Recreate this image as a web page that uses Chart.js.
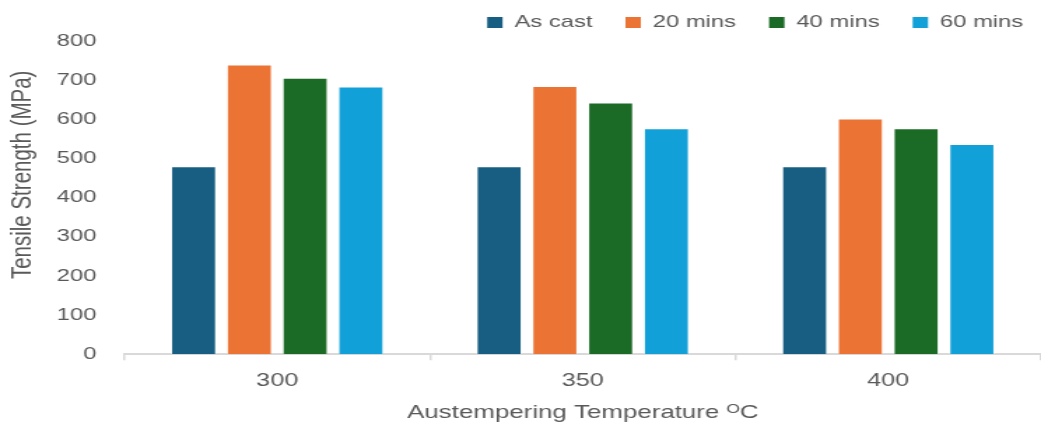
<!DOCTYPE html>
<html>
<head>
<meta charset="utf-8">
<script src="https://cdn.jsdelivr.net/npm/chart.js@4"></script>
<style>
  html, body { margin: 0; padding: 0; background: #fff; overflow: hidden; }
  /* the reference picture is stretched sideways, so draw narrower and widen */
  #wrap { width: 744px; height: 426px; transform: scaleX(1.3992); transform-origin: 0 0; }
</style>
</head>
<body>
<div id="wrap"><canvas id="graf" width="744" height="426"></canvas></div>
<script>
const temps = ["300", "350", "400"]
const asCast = [480, 480, 480]
const mins20 = [740, 685, 602]
const mins40 = [706, 643, 577]
const mins60 = [684, 577, 537]
const seriesNames = ["As cast", "20 mins", "40 mins", "60 mins"]
const seriesColors = ["#175e82", "#eb7334", "#1b6a26", "#11a0d8"]

const font = "'Liberation Sans', Arial, sans-serif"
const gray = "#595959"

const values = [asCast, mins20, mins40, mins60]
const datasets = seriesNames.map((name, i) => ({
  label: name,
  data: values[i],
  backgroundColor: seriesColors[i],
  borderColor: "rgba(255,255,255,0.5)",
  borderWidth: 1,
  categoryPercentage: 0.73,
  barPercentage: 0.82
}))

new Chart(document.getElementById("graf"), {
  type: "bar",
  data: { labels: temps, datasets: datasets },
  options: {
    responsive: false,
    animation: false,
    layout: { padding: { left: 4, right: 0, top: 6, bottom: 2 } },
    plugins: {
      legend: {
        display: true,
        position: "top",
        align: "end",
        labels: {
          boxWidth: 11,
          boxHeight: 11,
          padding: 8,
          color: gray,
          font: { family: font, size: 17 },
          generateLabels(chart) {
            const items = Chart.defaults.plugins.legend.labels.generateLabels(chart)
            items.forEach((it, i) => {
              it.lineWidth = 0
              it.text = i < items.length - 1 ? it.text + "   \u200A" : it.text + " "
            })
            return items
          }
        }
      },
      tooltip: { enabled: false }
    },
    scales: {
      x: {
        grid: { display: true, drawOnChartArea: false, drawTicks: true, tickLength: 6, color: "#d9d9d9", lineWidth: 1.5, offset: true },
        border: { display: true, color: "#d9d9d9", width: 2 },
        ticks: { color: gray, font: { family: font, size: 18 }, padding: 10 },
        title: { display: true, text: "Austempering Temperature \u1D3CC", color: gray, font: { family: font, size: 18.5 }, padding: { top: 0, bottom: 0 } }
      },
      y: {
        min: 0,
        max: 800,
        grid: { display: false },
        border: { display: false },
        ticks: { stepSize: 100, color: gray, font: { family: font, size: 17 }, padding: 12 },
        // leading spaces nudge the title up the axis, as in the reference
        title: { display: true, text: "        Tensile Strength (MPa)", color: gray, font: { family: font, size: 20.5 }, padding: { top: 0, bottom: 0 } }
      }
    }
  }
})
</script>
</body>
</html>
